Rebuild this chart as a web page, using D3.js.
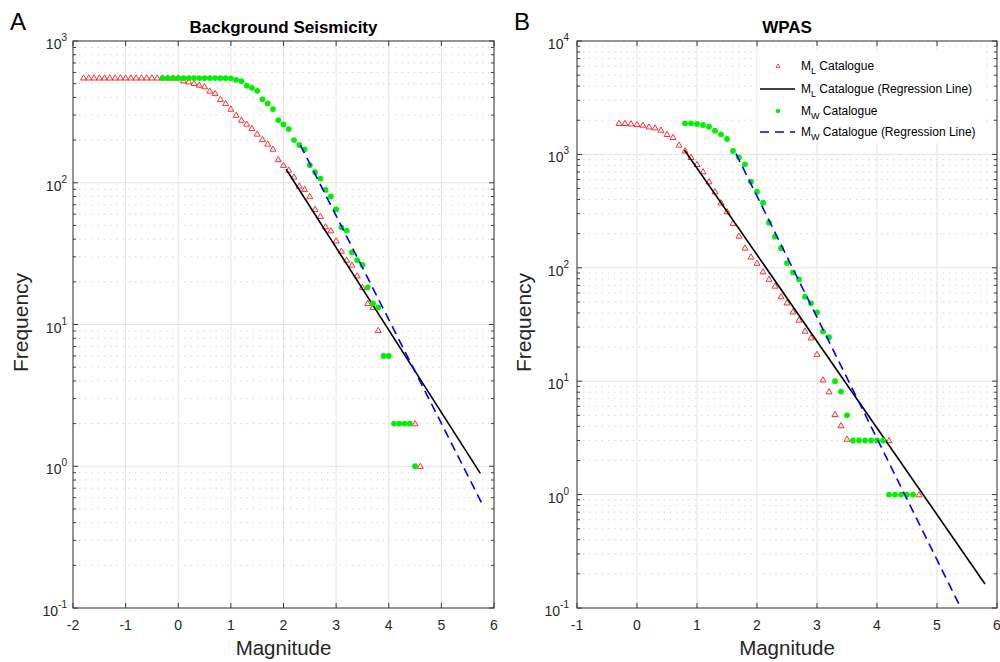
<!DOCTYPE html>
<html><head><meta charset="utf-8">
<script src="https://cdn.jsdelivr.net/npm/d3@7"></script>
<style>body{margin:0;background:#fff} svg{display:block}</style>
</head><body><svg id="c" width="1000" height="662"></svg>
<script>
// ---------- Panel A : Background Seismicity ----------
const magA_ML = [-1.8,-1.7,-1.6,-1.5,-1.4,-1.3,-1.2,-1.1,-1.0,-0.9,-0.8,-0.7,-0.6,-0.5,-0.4,-0.3,-0.2,-0.1,0.0,
  0.1,0.2,0.3,0.4,0.5,0.6,0.7,0.8,0.9,1.0,1.1,1.2,1.3,1.4,1.5,1.6,1.7,1.8,1.9,2.0,
  2.1,2.2,2.3,2.4,2.5,2.6,2.7,2.8,2.9,3.0,3.1,3.2,3.3,3.4,3.5,3.6,3.7,3.8,4.5,4.6];
const freqA_ML = [550,550,550,550,550,550,550,550,550,550,550,550,550,550,550,550,550,550,550,
  525,516,503,489,477,444,427,388,363,331,300,277,260,242,221,202,188,173,146,133,
  123,110,95,90,80,65,58,49,46,39,33,28.5,26.3,22.1,18.3,14.1,13.2,9.1,2,1];
const magA_MW = [-0.3,-0.2,-0.1,0.0,0.1,0.2,0.3,0.4,0.5,0.6,0.7,0.8,0.9,1.0,1.1,1.2,1.3,1.4,1.5,1.6,1.7,1.8,1.9,2.0,
  2.1,2.2,2.3,2.4,2.5,2.6,2.7,2.8,2.9,3.0,3.1,3.2,3.3,3.4,3.5,3.6,3.7,3.8,3.9,4.0,4.1,4.2,4.3,4.4,4.5];
const freqA_MW = [548,548,548,548,548,548,548,548,548,548,548,548,548,545,532,520,484,467,445,388,363,331,277,258,
  239,200,185,172,133,119,107,89,80,65,48.5,46,32.3,28.5,26.3,18.3,14.1,13.2,6,6,2,2,2,2,1];
const regA_ML_mag = [2.05, 5.74];
const regA_ML_freq = [124.5, 0.89];
const regA_MW_mag = [2.32, 5.80];
const regA_MW_freq = [184.5, 0.52];

// ---------- Panel B : WPAS ----------
const magB_ML = [-0.3,-0.2,-0.1,0.0,0.1,0.2,0.3,0.4,0.5,0.6,0.7,0.8,0.9,1.0,1.1,1.2,1.3,1.4,1.5,1.6,1.7,1.8,1.9,2.0,
  2.1,2.2,2.3,2.4,2.5,2.6,2.7,2.8,2.9,3.0,3.1,3.2,3.3,3.4,3.5,4.2,4.7];
const freqB_ML = [1880,1880,1866,1841,1816,1753,1718,1640,1503,1415,1211,1079,943,818,705,575,469,375,313,247,191,150,125,110,
  92.5,79.5,69.2,55.8,49.2,41,34.7,27.7,24.2,17.3,10.3,8.1,5.1,4.06,3.09,3,1];
const magB_MW = [0.8,0.9,1.0,1.1,1.2,1.3,1.4,1.5,1.6,1.7,1.8,1.9,2.0,2.1,2.2,2.3,2.4,2.5,2.6,2.7,2.8,2.9,3.0,
  3.1,3.2,3.3,3.4,3.5,3.6,3.7,3.8,3.9,4.0,4.1,4.2,4.3,4.4,4.5,4.6];
const freqB_MW = [1880,1880,1854,1816,1753,1617,1503,1367,1072,943,818,575,469,375,250,188,149,110,91,79,55.6,48.6,40.5,
  27.4,24.4,10,8.1,5.0,3,3,3,3,3,3,1,1,1,1,1];
const regB_ML_mag = [0.79, 5.80];
const regB_ML_freq = [1094, 0.163];
const regB_MW_mag = [1.65, 5.45];
const regB_MW_freq = [1014, 0.088];

// ---------- axes ----------
const xTicksA = [-2,-1,0,1,2,3,4,5,6];
const xTicksB = [-1,0,1,2,3,4,5,6];
const yDecadesA = [0.1,1,10,100,1000];
const yDecadesB = [0.1,1,10,100,1000,10000];
const legendLabels = [
  {m:"M", s:"L", t:" Catalogue"},
  {m:"M", s:"L", t:" Catalogue (Regression Line)"},
  {m:"M", s:"W", t:" Catalogue"},
  {m:"M", s:"W", t:" Catalogue (Regression Line)"}
];

const svg = d3.select("#c");
const FONT = "'Liberation Sans', Arial, Helvetica, sans-serif";
const RED = "#ff1a1a", GREEN = "#00f000", BLUE = "#0000ff";

function triPath(x, y) {
  return `M${x},${y-3} L${x+3},${y+2.2} L${x-3},${y+2.2} Z`;
}

function panel(cfg) {
  const {L, R, T, B, xDom, yDom, xTicks, yDec, id} = cfg;
  const x = d3.scaleLinear().domain(xDom).range([L, R]);
  const y = d3.scaleLog().domain(yDom).range([B, T]);
  const g = svg.append("g");
  g.append("clipPath").attr("id", "clip" + id).append("rect")
    .attr("x", L).attr("y", T).attr("width", R - L).attr("height", B - T);

  // minor horizontal grid (dotted)
  const minors = [];
  yDec.forEach((d, i) => { if (i < yDec.length - 1) for (let k = 2; k <= 9; k++) minors.push(d * k); });
  g.selectAll(".mg").data(minors).join("line")
    .attr("x1", L).attr("x2", R).attr("y1", d => y(d)).attr("y2", d => y(d))
    .attr("stroke", "#c4c4c4").attr("stroke-width", 0.8).attr("stroke-dasharray", "1.2,5");
  // major grid
  g.selectAll(".Mg").data(yDec).join("line")
    .attr("x1", L).attr("x2", R).attr("y1", d => y(d)).attr("y2", d => y(d))
    .attr("stroke", "#e2e2e2").attr("stroke-width", 1);
  g.selectAll(".Vg").data(xTicks).join("line")
    .attr("x1", d => x(d)).attr("x2", d => x(d)).attr("y1", T).attr("y2", B)
    .attr("stroke", "#e2e2e2").attr("stroke-width", 1);

  const clipG = g.append("g").attr("clip-path", `url(#clip${id})`);
  // ML triangles
  clipG.selectAll(".tri").data(cfg.mlMag.map((m, i) => [m, cfg.mlFreq[i]])).join("path")
    .attr("d", d => triPath(x(d[0]), y(d[1])))
    .attr("fill", "none").attr("stroke", RED).attr("stroke-width", 0.9);
  // ML regression
  clipG.append("line")
    .attr("x1", x(cfg.rmlMag[0])).attr("y1", y(cfg.rmlFreq[0]))
    .attr("x2", x(cfg.rmlMag[1])).attr("y2", y(cfg.rmlFreq[1]))
    .attr("stroke", "#000").attr("stroke-width", 1.6);
  // MW circles
  clipG.selectAll(".cir").data(cfg.mwMag.map((m, i) => [m, cfg.mwFreq[i]])).join("circle")
    .attr("cx", d => x(d[0])).attr("cy", d => y(d[1])).attr("r", 2.9)
    .attr("fill", GREEN);
  // MW regression
  clipG.append("line")
    .attr("x1", x(cfg.rmwMag[0])).attr("y1", y(cfg.rmwFreq[0]))
    .attr("x2", x(cfg.rmwMag[1])).attr("y2", y(cfg.rmwFreq[1]))
    .attr("stroke", BLUE).attr("stroke-width", 1.6).attr("stroke-dasharray", "9,5.5");

  // axis box
  g.append("rect").attr("x", L).attr("y", T).attr("width", R - L).attr("height", B - T)
    .attr("fill", "none").attr("stroke", "#3a3a3a").attr("stroke-width", 1);
  // x ticks (bottom & top, inward)
  xTicks.forEach(t => {
    g.append("line").attr("x1", x(t)).attr("x2", x(t)).attr("y1", B).attr("y2", B - 5).attr("stroke", "#3a3a3a");
    g.append("line").attr("x1", x(t)).attr("x2", x(t)).attr("y1", T).attr("y2", T + 5).attr("stroke", "#3a3a3a");
    g.append("text").attr("x", x(t)).attr("y", B + 22).attr("text-anchor", "middle")
      .attr("font-family", FONT).attr("font-size", 14).attr("fill", "#262626").text(t);
  });
  // y ticks
  yDec.forEach(d => {
    g.append("line").attr("x1", L).attr("x2", L + 5).attr("y1", y(d)).attr("y2", y(d)).attr("stroke", "#3a3a3a");
    g.append("line").attr("x1", R).attr("x2", R - 5).attr("y1", y(d)).attr("y2", y(d)).attr("stroke", "#3a3a3a");
    const e = Math.round(Math.log10(d));
    const tx = g.append("text").attr("x", L - cfg.labGap).attr("y", y(d) + 8).attr("text-anchor", "end")
      .attr("font-family", FONT).attr("font-size", 14).attr("fill", "#262626");
    tx.append("tspan").text("10");
    tx.append("tspan").attr("dy", -8).attr("font-size", 10).text(e);
  });
  minors.forEach(d => {
    g.append("line").attr("x1", L).attr("x2", L + 3).attr("y1", y(d)).attr("y2", y(d)).attr("stroke", "#3a3a3a");
    g.append("line").attr("x1", R).attr("x2", R - 3).attr("y1", y(d)).attr("y2", y(d)).attr("stroke", "#3a3a3a");
  });

  // labels
  g.append("text").attr("x", (L + R) / 2).attr("y", 655).attr("text-anchor", "middle")
    .attr("font-family", FONT).attr("font-size", 20.5).attr("fill", "#262626").text("Magnitude");
  g.append("text").attr("transform", `translate(${cfg.yLabX},${(T + B) / 2 - 2}) rotate(-90)`)
    .attr("text-anchor", "middle").attr("font-family", FONT).attr("font-size", 21).attr("fill", "#262626")
    .text("Frequency");
  g.append("text").attr("x", (L + R) / 2).attr("y", 33).attr("text-anchor", "middle")
    .attr("font-family", FONT).attr("font-size", 17).attr("font-weight", "bold").attr("fill", "#000")
    .text(cfg.title);
  g.append("text").attr("x", cfg.letterX).attr("y", 30)
    .attr("font-family", FONT).attr("font-size", 24).attr("fill", "#000").text(cfg.letter);
  return {x, y, g};
}

panel({id: "A", L: 73, R: 494, T: 41, B: 608, xDom: [-2, 6], yDom: [0.1, 1000],
  xTicks: xTicksA, yDec: yDecadesA, labGap: 6, yLabX: 28, title: "Background Seismicity",
  letter: "A", letterX: 10,
  mlMag: magA_ML, mlFreq: freqA_ML, mwMag: magA_MW, mwFreq: freqA_MW,
  rmlMag: regA_ML_mag, rmlFreq: regA_ML_freq, rmwMag: regA_MW_mag, rmwFreq: regA_MW_freq});

const pB = panel({id: "B", L: 577, R: 997, T: 41, B: 608, xDom: [-1, 6], yDom: [0.1, 10000],
  xTicks: xTicksB, yDec: yDecadesB, labGap: 8, yLabX: 531, title: "WPAS",
  letter: "B", letterX: 514,
  mlMag: magB_ML, mlFreq: freqB_ML, mwMag: magB_MW, mwFreq: freqB_MW,
  rmlMag: regB_ML_mag, rmlFreq: regB_ML_freq, rmwMag: regB_MW_mag, rmwFreq: regB_MW_freq});

// legend (panel B)
const lg = svg.append("g");
lg.append("rect").attr("x", 757).attr("y", 51).attr("width", 228).attr("height", 92).attr("fill", "#fff");
const rowY = [66, 89, 111, 132];
lg.append("path").attr("d", `M778,${rowY[0]-2} L780,${rowY[0]+1.5} L776,${rowY[0]+1.5} Z`)
  .attr("fill", "none").attr("stroke", RED).attr("stroke-width", 0.8);
lg.append("line").attr("x1", 760).attr("x2", 795).attr("y1", rowY[1]).attr("y2", rowY[1])
  .attr("stroke", "#000").attr("stroke-width", 1.6);
lg.append("circle").attr("cx", 778).attr("cy", rowY[2]).attr("r", 2.2).attr("fill", GREEN);
lg.append("line").attr("x1", 760).attr("x2", 795).attr("y1", rowY[3]).attr("y2", rowY[3])
  .attr("stroke", BLUE).attr("stroke-width", 1.6).attr("stroke-dasharray", "9,6");
legendLabels.forEach((d, i) => {
  const t = lg.append("text").attr("x", 801).attr("y", rowY[i] + 4)
    .attr("font-family", FONT).attr("font-size", 12).attr("fill", "#000");
  t.append("tspan").text(d.m);
  t.append("tspan").attr("dy", 4).attr("font-size", 9).text(d.s);
  t.append("tspan").attr("dy", -4).text(d.t);
});
</script></body></html>
